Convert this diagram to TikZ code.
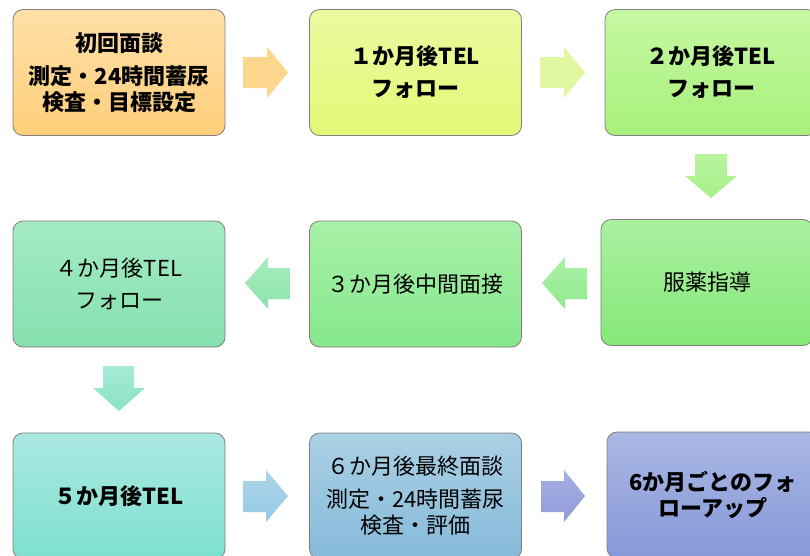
\documentclass[tikz,border=0pt]{standalone}
\usepackage{fontspec}
\setmainfont{Noto Sans CJK JP}
\definecolor{bordergray}{HTML}{7F7F7F}
\tikzset{
  box/.style={draw=bordergray, line width=0.8pt, rounded corners=10pt,
    minimum width=212pt, minimum height=126pt, align=center, inner sep=0pt,
    font=\fontsize{22}{26}\selectfont, text=black},
  boldtext/.style={font=\fontsize{22}{26}\selectfont\bfseries},
}
\begin{document}
\begin{tikzpicture}[x=1pt,y=-1pt]
\clip (0,0) rectangle (810,555);
\fill[white] (0,0) rectangle (810,555);
% Row 1
\node[box, boldtext, top color={rgb,255:red,255;green,224;blue,168}, bottom color={rgb,255:red,255;green,206;blue,122}]
  (a) at (119,72.5) {初回面談\\[7pt]測定・24時間蓄尿\\検査・目標設定};
\node[box, boldtext, top color={rgb,255:red,234;green,250;blue,160}, bottom color={rgb,255:red,228;green,248;blue,118}]
  (b) at (415.5,72.5) {１か月後TEL\\[6pt]フォロー};
\node[box, boldtext, top color={rgb,255:red,198;green,248;blue,162}, bottom color={rgb,255:red,168;green,240;blue,124}]
  (c) at (711,72.5) {２か月後TEL\\[6pt]フォロー};
% Row 2
\node[box, top color={rgb,255:red,164;green,235;blue,196}, bottom color={rgb,255:red,134;green,224;blue,174}]
  (d) at (119,284) {４か月後TEL\\[6pt]フォロー};
\node[box, top color={rgb,255:red,168;green,240;blue,168}, bottom color={rgb,255:red,134;green,232;blue,140}]
  (e) at (415.5,284) {３か月後中間面接};
\node[box, top color={rgb,255:red,170;green,240;blue,160}, bottom color={rgb,255:red,134;green,232;blue,120}]
  (f) at (707,282.5) {服薬指導};
% Row 3
\node[box, boldtext, top color={rgb,255:red,170;green,232;blue,224}, bottom color={rgb,255:red,126;green,224;blue,208}]
  (g) at (119,496) {５か月後TEL};
\node[box, top color={rgb,255:red,170;green,208;blue,228}, bottom color={rgb,255:red,134;green,186;blue,218}]
  (h) at (415.5,496) {６か月後最終面談\\[7pt]測定・24時間蓄尿\\検査・評価};
\node[box, boldtext, top color={rgb,255:red,170;green,184;blue,228}, bottom color={rgb,255:red,134;green,152;blue,216}]
  (i) at (713,495) {6か月ごとのフォ\\ローアップ};
% Arrows row 1
\fill[color={rgb,255:red,252;green,214;blue,140}] (243,57) -- (267,57) -- (267,47) -- (288,72.5) -- (267,98) -- (267,88) -- (243,88) -- cycle;
\fill[color={rgb,255:red,226;green,248;blue,160}] (540,57) -- (564,57) -- (564,47) -- (585,72.5) -- (564,98) -- (564,88) -- (540,88) -- cycle;
% Down arrow 1
\shade[top color={rgb,255:red,184;green,244;blue,158}, bottom color={rgb,255:red,168;green,240;blue,138}] (695,154) -- (727,154) -- (727,176) -- (737,176) -- (711,198) -- (685,176) -- (695,176) -- cycle;
% Arrows row 2 (left)
\shade[top color={rgb,255:red,168;green,236;blue,190}, bottom color={rgb,255:red,140;green,226;blue,172}] (290,268) -- (268,268) -- (268,257) -- (245,283) -- (268,309) -- (268,299) -- (290,299) -- cycle;
\shade[top color={rgb,255:red,172;green,240;blue,168}, bottom color={rgb,255:red,144;green,234;blue,140}] (587,268) -- (565,268) -- (565,257) -- (542,283) -- (565,309) -- (565,299) -- (587,299) -- cycle;
% Down arrow 2
\shade[top color={rgb,255:red,166;green,234;blue,214}, bottom color={rgb,255:red,138;green,226;blue,198}] (103,366) -- (134,366) -- (134,388) -- (145,388) -- (119,411) -- (93,388) -- (103,388) -- cycle;
% Arrows row 3
\shade[top color={rgb,255:red,172;green,214;blue,234}, bottom color={rgb,255:red,150;green,200;blue,228}] (243,481) -- (266,481) -- (266,470) -- (288,496) -- (266,522) -- (266,512) -- (243,512) -- cycle;
\shade[top color={rgb,255:red,166;green,174;blue,226}, bottom color={rgb,255:red,144;green,156;blue,218}] (541,481) -- (564,481) -- (564,470) -- (585,496) -- (564,522) -- (564,512) -- (541,512) -- cycle;
\end{tikzpicture}
\end{document}
